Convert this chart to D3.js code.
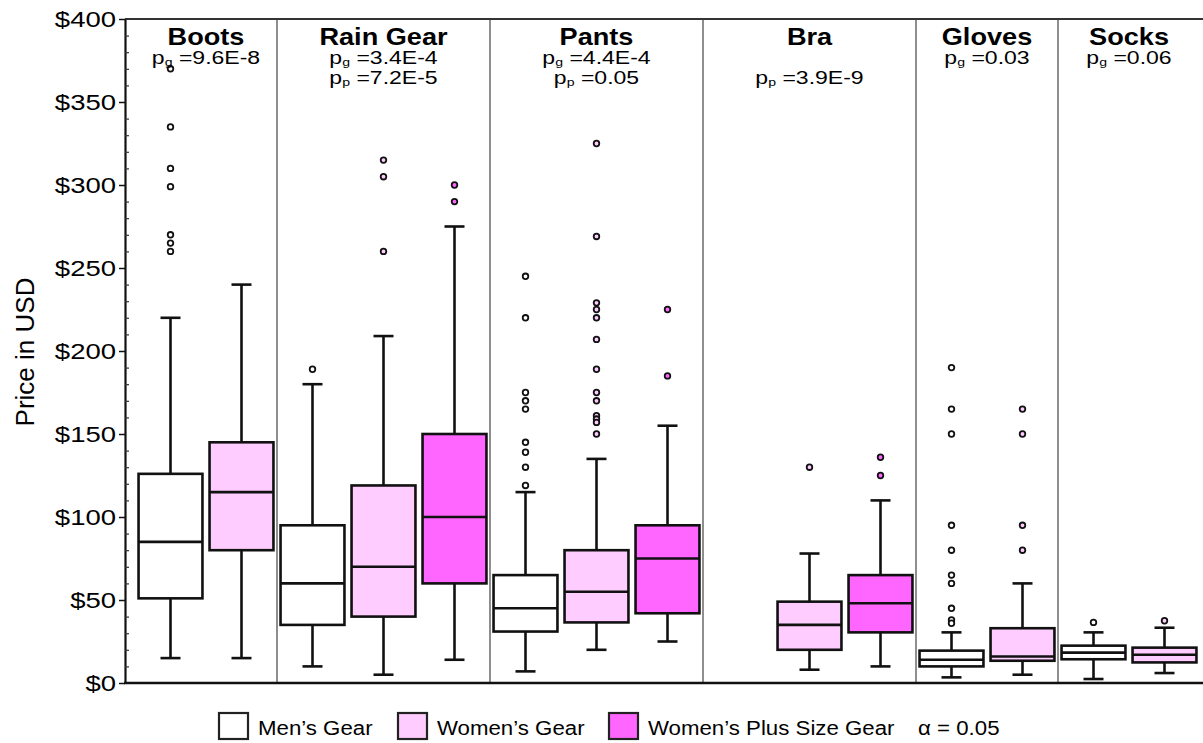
<!DOCTYPE html>
<html>
<head>
<meta charset="utf-8">
<script src="https://cdn.jsdelivr.net/npm/d3@7"></script>
<style>
  body { margin: 0; background: #fff; }
  text { font-family: "Liberation Sans", Arial, Helvetica, sans-serif; fill: #000; }
</style>
</head>
<body>
<svg id="chart" width="1203" height="743"></svg>
<script>
// ---- data ----
const categories = ["Boots", "Rain Gear", "Pants", "Bra", "Gloves", "Socks"];
const groups = ["Men\u2019s Gear", "Women\u2019s Gear", "Women\u2019s Plus Size Gear"];
const alphaLabel = "\u03b1 = 0.05";

// p-values per category: gender comparison (g) and plus-size comparison (p)
const pGender = ["9.6E-8", "3.4E-4", "4.4E-4", null, "0.03", "0.06"];
const pPlus   = [null, "7.2E-5", "0.05", "3.9E-9", null, null];

const yTicks = [0, 50, 100, 150, 200, 250, 300, 350, 400];

// one entry per box
const boxCategory = ["Boots", "Boots", "Rain Gear", "Rain Gear", "Rain Gear",
                     "Pants", "Pants", "Pants", "Bra", "Bra",
                     "Gloves", "Gloves", "Socks", "Socks"];
const boxGroup    = [0, 1, 0, 1, 2, 0, 1, 2, 1, 2, 0, 1, 0, 1];
const whiskerLow  = [15, 15, 10, 5, 14, 7, 20, 25, 8, 10, 3.4, 5, 2.4, 6];
const q1          = [51, 80, 35, 40, 60, 31, 36.5, 42, 20, 30.5, 10, 13.4, 14.3, 12.4];
const median      = [85, 115, 60, 70, 100, 45, 55, 75, 35, 48, 14, 16, 18.3, 17];
const q3          = [126, 145, 95, 119, 150, 65, 80, 95, 49, 65, 19.5, 33, 22.5, 21.3];
const whiskerHigh = [220, 240, 180, 209, 275, 115, 135, 155, 78, 110, 30.5, 60, 30.5, 33.3];
const outliers = [
  [370, 335, 310, 299, 270, 265, 260],
  [],
  [189],
  [315, 305, 260],
  [300, 290],
  [245, 220, 175, 170, 165, 145, 139, 130, 119],
  [325, 269, 229, 225, 220, 207, 189, 175, 170, 161, 159, 157, 150],
  [225, 185],
  [130],
  [136, 125],
  [190, 165, 150, 95, 80, 65, 60, 45, 38, 36],
  [165, 150, 95, 80],
  [36.5],
  [37.5]
];

// ---- styles ----
const groupFill = ["#ffffff", "#ffccff", "#ff66ff"];
const ink = "#111";
const font = "\"Liberation Sans\", Arial, sans-serif";

// ---- layout ----
const svg = d3.select("#chart");
const axisX = 125, plotRight = 1203, plotTop = 19, plotBottom = 683;

// slots: each category gets one slot per group up to its highest group index
const slotCount = categories.map(c =>
  d3.max(boxGroup.filter((g, i) => boxCategory[i] === c)) + 1);
const slotStart = [];
slotCount.reduce((acc, n, i) => { slotStart[i] = acc; return acc + n; }, 0);
const totalSlots = d3.sum(slotCount);

const x = d3.scaleLinear().domain([0, totalSlots]).range([135, 1200]);
const y = d3.scaleLinear().domain([0, 400]).range([plotBottom, plotTop]);

const slotW = x(1) - x(0);
const boxW = slotW * 0.9;
const capW = 20;

// panel dividers
const dividers = slotStart.slice(1);
svg.append("g").selectAll("line").data(dividers).join("line")
  .attr("x1", d => x(d)).attr("x2", d => x(d))
  .attr("y1", plotTop).attr("y2", plotBottom)
  .attr("stroke", "#444").attr("stroke-width", 1.2);

// top frame line
svg.append("line")
  .attr("x1", axisX).attr("x2", plotRight)
  .attr("y1", plotTop).attr("y2", plotTop)
  .attr("stroke", "#333").attr("stroke-width", 2);

// ---- boxes ----
const boxes = boxCategory.map((c, i) => {
  const ci = categories.indexOf(c);
  return {
    cx: x(slotStart[ci] + boxGroup[i] + 0.5),
    g: boxGroup[i], lo: whiskerLow[i], q1: q1[i], med: median[i],
    q3: q3[i], hi: whiskerHigh[i], out: outliers[i]
  };
});

const bg = svg.append("g").selectAll("g").data(boxes).join("g");

// whiskers
bg.append("line")
  .attr("x1", d => d.cx).attr("x2", d => d.cx)
  .attr("y1", d => y(d.lo)).attr("y2", d => y(d.q1))
  .attr("stroke", ink).attr("stroke-width", 2.6);
bg.append("line")
  .attr("x1", d => d.cx).attr("x2", d => d.cx)
  .attr("y1", d => y(d.q3)).attr("y2", d => y(d.hi))
  .attr("stroke", ink).attr("stroke-width", 2.6);
// caps
bg.selectAll("line.cap").data(d => [d.lo, d.hi].map(v => ({ cx: d.cx, v })))
  .join("line").attr("class", "cap")
  .attr("x1", d => d.cx - capW / 2).attr("x2", d => d.cx + capW / 2)
  .attr("y1", d => y(d.v)).attr("y2", d => y(d.v))
  .attr("stroke", ink).attr("stroke-width", 2.6);
// box
bg.append("rect")
  .attr("x", d => d.cx - boxW / 2).attr("width", boxW)
  .attr("y", d => y(d.q3)).attr("height", d => y(d.q1) - y(d.q3))
  .attr("fill", d => groupFill[d.g])
  .attr("stroke", ink).attr("stroke-width", 2.6);
// median
bg.append("line")
  .attr("x1", d => d.cx - boxW / 2).attr("x2", d => d.cx + boxW / 2)
  .attr("y1", d => y(d.med)).attr("y2", d => y(d.med))
  .attr("stroke", ink).attr("stroke-width", 2.6);
// outliers
bg.selectAll("circle").data(d => d.out.map(v => ({ cx: d.cx, v, g: d.g })))
  .join("circle")
  .attr("cx", d => d.cx).attr("cy", d => y(d.v)).attr("r", 2.8)
  .attr("fill", d => groupFill[d.g])
  .attr("stroke", ink).attr("stroke-width", 1.8);

// ---- y axis ----
const stretch = 1.25;
const yAxis = svg.append("g").attr("transform", `translate(${axisX},0)`)
  .call(d3.axisLeft(y).tickValues(yTicks).tickFormat(d => "$" + d)
    .tickSize(6).tickSizeOuter(0).tickPadding(3));
yAxis.select(".domain").attr("stroke", ink).attr("stroke-width", 2.2);
yAxis.selectAll(".tick line").attr("stroke", ink).attr("stroke-width", 1.5);
yAxis.selectAll(".tick text")
  .attr("font-family", font).attr("font-size", 22).attr("fill", "#000")
  .attr("x", -9 / stretch)
  .attr("transform", `scale(${stretch},1)`);

// minor ticks inside the plot
const minorTicks = d3.range(0, 401, 10).filter(v => v % 50 !== 0);
svg.append("g").attr("transform", `translate(${axisX},0)`)
  .call(d3.axisRight(y).tickValues(minorTicks).tickFormat("").tickSize(4).tickSizeOuter(0))
  .call(g => g.select(".domain").remove())
  .selectAll(".tick line").attr("stroke", "#333").attr("stroke-width", 1.2);

// x axis baseline
svg.append("line")
  .attr("x1", axisX - 1).attr("x2", plotRight)
  .attr("y1", plotBottom).attr("y2", plotBottom)
  .attr("stroke", ink).attr("stroke-width", 2.6);

// y axis title
svg.append("text")
  .attr("transform", "translate(34,352) rotate(-90)")
  .attr("text-anchor", "middle")
  .attr("font-size", 26)
  .text("Price in USD");

// ---- category titles and p-values ----
const panelCenter = categories.map((c, i) =>
  (Math.max(x(slotStart[i]), i === 0 ? axisX : 0) + x(slotStart[i] + slotCount[i])) / 2);

function stretchedText(parent, cx, yy, size, sx) {
  return parent.append("text")
    .attr("transform", `translate(${cx},${yy}) scale(${sx},1)`)
    .attr("text-anchor", "middle")
    .attr("font-size", size);
}

const titles = svg.append("g");
categories.forEach((c, i) => {
  const cx = panelCenter[i];
  stretchedText(titles, cx, 45, 23, 1.18).attr("font-weight", "bold").text(c);
  const lines = [];
  if (pGender[i]) lines.push({ sub: "g", val: pGender[i], row: 0 });
  if (pPlus[i]) lines.push({ sub: "p", val: pPlus[i], row: 1 });
  lines.forEach(l => {
    const t = stretchedText(titles, cx, l.row === 0 ? 64 : 84, 18, 1.28);
    t.append("tspan").text("p");
    t.append("tspan").attr("font-size", 11).attr("dy", 2).text(l.sub);
    t.append("tspan").attr("dy", -2).text(" =" + l.val);
  });
});

// ---- legend ----
const legendBoxX = [219, 398, 609];
const legend = svg.append("g");
groups.forEach((gname, i) => {
  legend.append("rect")
    .attr("x", legendBoxX[i]).attr("y", 713).attr("width", 29).attr("height", 26)
    .attr("fill", groupFill[i]).attr("stroke", "#222").attr("stroke-width", 2.2);
  legend.append("text")
    .attr("transform", `translate(${legendBoxX[i] + 39},735) scale(1.06,1)`)
    .attr("font-size", 21).text(gname);
});
legend.append("text")
  .attr("transform", "translate(918,735) scale(1.06,1)")
  .attr("font-size", 21).text(alphaLabel);
</script>
</body>
</html>
